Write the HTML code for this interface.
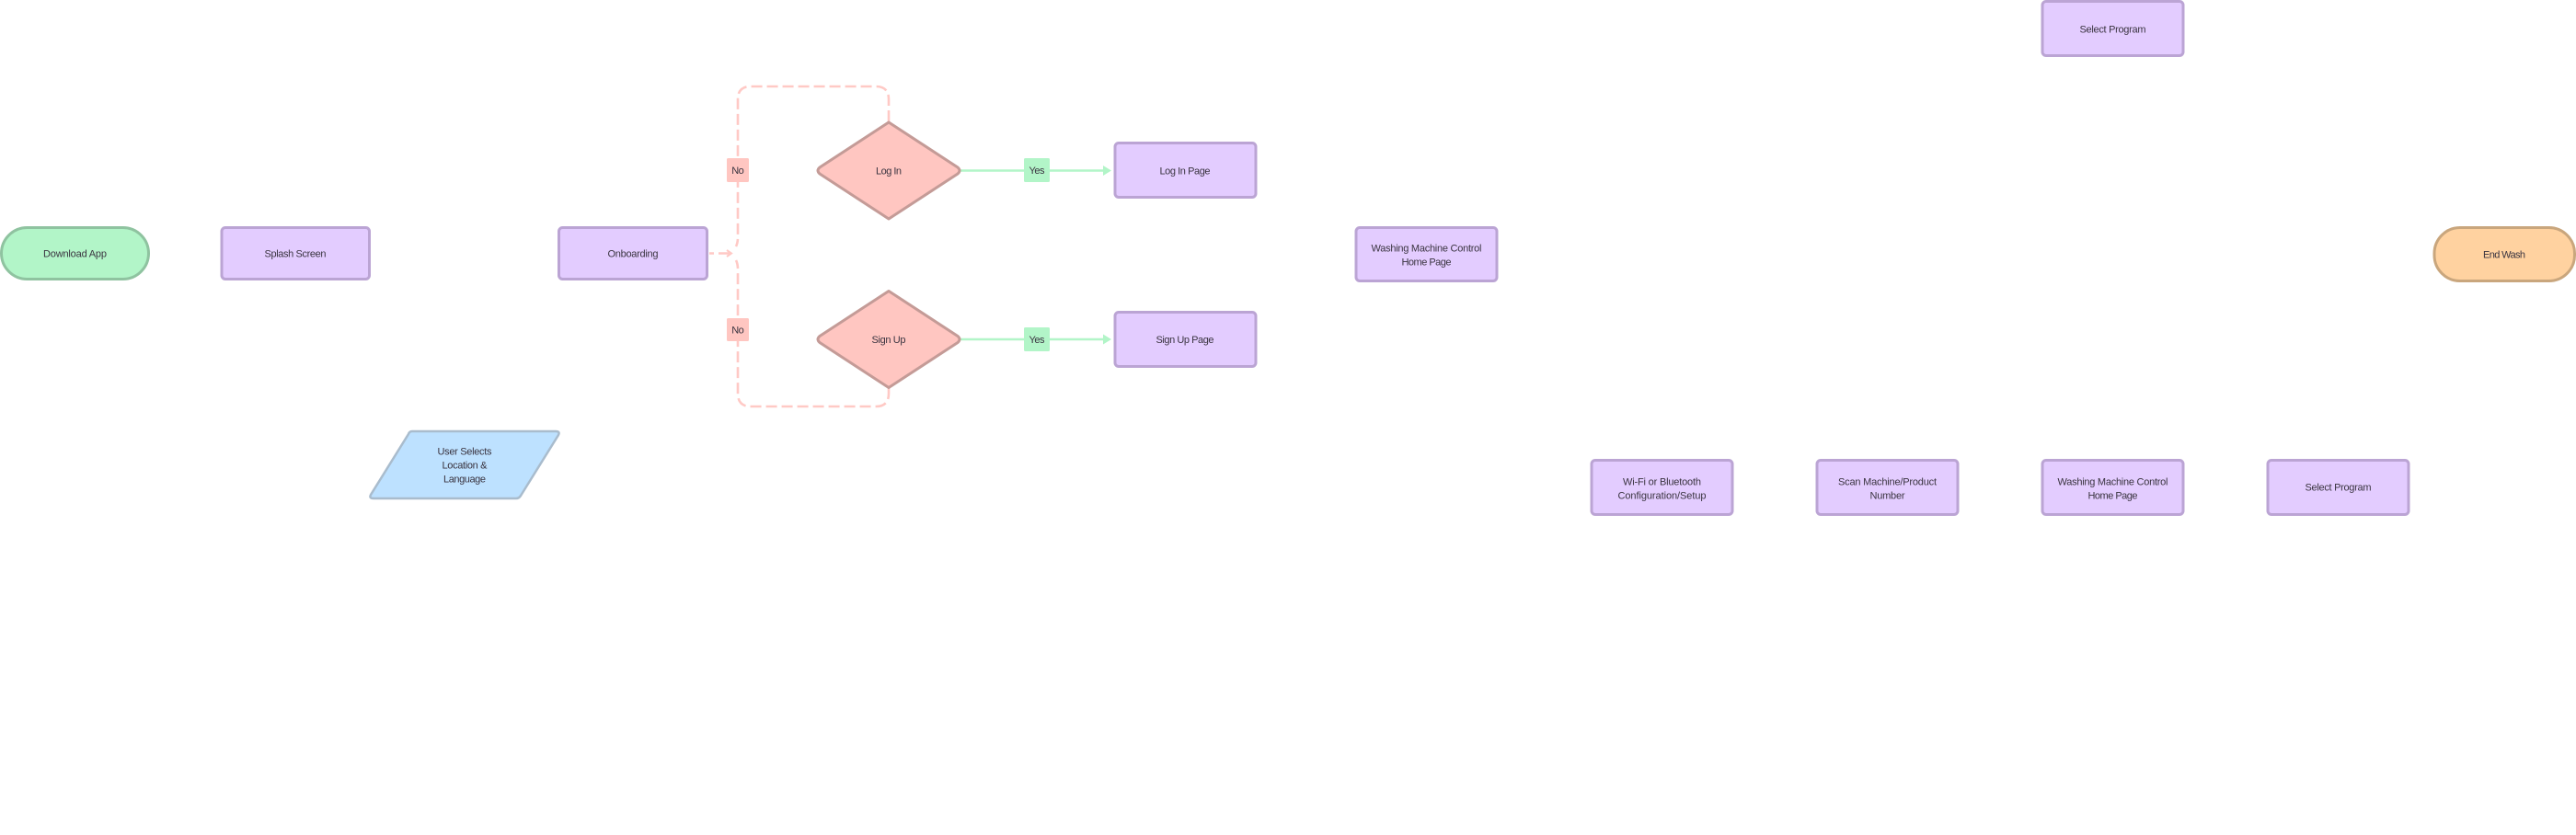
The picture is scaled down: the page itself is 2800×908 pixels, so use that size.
<!DOCTYPE html>
<html lang="en">
<head>
<meta charset="utf-8">
<title>App Flow Diagram</title>
<style>
html,body{margin:0;padding:0;background:#fff;width:2800px;height:908px;overflow:hidden}
svg{display:block}
text{font-family:"Liberation Sans",sans-serif;font-size:11px;fill:#3a3440;text-anchor:middle}
.p{fill:#e3ccff;stroke:#bba4d4;stroke-width:3}
.r{fill:#ffc6c1;stroke:#c49b97;stroke-width:3;stroke-linejoin:round}
.d{fill:none;stroke:#ffc9c5;stroke-width:2.6;stroke-dasharray:12 5}
.g{fill:none;stroke:#b2f5c8;stroke-width:2.5}
</style>
</head>
<body>
<svg width="2800" height="908" viewBox="0 0 2800 908" xmlns="http://www.w3.org/2000/svg">
<rect width="2800" height="908" fill="#fff"/>

<!-- dashed connectors -->
<path class="d" d="M966 132V108Q966 94 952 94H816Q802 94 802 108V258Q802 264 800 268"/>
<path class="d" d="M966 422V428Q966 442 952 442H816Q802 442 802 428V293Q802 287 800 283"/>
<path d="M771 275.500H776M781 275.500H793" fill="none" stroke="#ffc9c5" stroke-width="2.500"/>
<path d="M790 272L795 275.500L790 279" fill="none" stroke="#ffc9c5" stroke-width="2"/>

<!-- green connectors -->
<path class="g" d="M1044 185.500H1200"/>
<path class="g" d="M1044 369H1200"/>
<path d="M1199 180L1208 185.500L1199 191Z" fill="#b2f5c8"/>
<path d="M1199 363.500L1208 369L1199 374.500Z" fill="#b2f5c8"/>

<!-- terminators -->
<rect x="1.500" y="247.500" width="160" height="56" rx="28" fill="#b2f5c8" stroke="#8fc3a0" stroke-width="3"/>
<rect x="2646" y="247.500" width="152.500" height="58" rx="28" fill="#ffd2a0" stroke="#c9a67d" stroke-width="3"/>

<!-- process boxes -->
<rect class="p" x="241" y="247.500" width="160.500" height="56" rx="4"/>
<rect class="p" x="607.500" y="247.500" width="161" height="56" rx="4"/>
<rect class="p" x="1212" y="155.500" width="153" height="59" rx="4"/>
<rect class="p" x="1212" y="339.500" width="153" height="59" rx="4"/>
<rect class="p" x="1474" y="247.500" width="153" height="58" rx="4"/>
<rect class="p" x="2220" y="1.500" width="153" height="59" rx="4"/>
<rect class="p" x="1730" y="500.500" width="153" height="59" rx="4"/>
<rect class="p" x="1975" y="500.500" width="153" height="59" rx="4"/>
<rect class="p" x="2220" y="500.500" width="153" height="59" rx="4"/>
<rect class="p" x="2465" y="500.500" width="153" height="59" rx="4"/>

<!-- decisions -->
<path class="r" d="M966 133L1041 182Q1045 185.500 1041 189L966 238L891 189Q887 185.500 891 182Z"/>
<path class="r" d="M966 316.500L1041 365.500Q1045 369 1041 372.500L966 421.500L891 372.500Q887 369 891 365.500Z"/>

<!-- input parallelogram -->
<path d="M448 469H604Q609 469 607 473L566 539Q564 542 561 542H406Q401 542 403 538L444 472Q445 469 448 469Z" fill="#bde1ff" stroke="#a9bccd" stroke-width="2.500"/>

<!-- edge labels -->
<rect x="790" y="172" width="24" height="26" rx="1.500" fill="#ffc6c1"/>
<rect x="790" y="346" width="24" height="25" rx="1.500" fill="#ffc6c1"/>
<rect x="1113" y="172" width="28" height="26" rx="1.500" fill="#b2f5c8"/>
<rect x="1113" y="356" width="28" height="26" rx="1.500" fill="#b2f5c8"/>

<text x="81.500" y="279.500" textLength="69" lengthAdjust="spacing">Download App</text>
<text x="321" y="279.500" textLength="67" lengthAdjust="spacing">Splash Screen</text>
<text x="688" y="279.500" textLength="55" lengthAdjust="spacing">Onboarding</text>
<text x="966" y="189.500" textLength="28" lengthAdjust="spacing">Log In</text>
<text x="966" y="373" textLength="37" lengthAdjust="spacing">Sign Up</text>
<text x="802" y="189" textLength="13.500" lengthAdjust="spacing">No</text>
<text x="802" y="362.500" textLength="13.500" lengthAdjust="spacing">No</text>
<text x="1127" y="189" textLength="17" lengthAdjust="spacing">Yes</text>
<text x="1127" y="373" textLength="17" lengthAdjust="spacing">Yes</text>
<text x="1288" y="189.500" textLength="55" lengthAdjust="spacing">Log In Page</text>
<text x="1288" y="373" textLength="63" lengthAdjust="spacing">Sign Up Page</text>
<text x="505" y="494.500" textLength="59" lengthAdjust="spacing">User Selects</text>
<text x="505" y="509.500" textLength="49" lengthAdjust="spacing">Location &amp;</text>
<text x="505" y="524.500" textLength="46" lengthAdjust="spacing">Language</text>
<text x="1550.500" y="273.500" textLength="120" lengthAdjust="spacing">Washing Machine Control</text>
<text x="1550.500" y="288.500" textLength="54" lengthAdjust="spacing">Home Page</text>
<text x="2722" y="280.500" textLength="46" lengthAdjust="spacing">End Wash</text>
<text x="2296.500" y="35.500" textLength="72" lengthAdjust="spacing">Select Program</text>
<text x="1806.500" y="527.500" textLength="85" lengthAdjust="spacing">Wi-Fi or Bluetooth</text>
<text x="1806.500" y="542.500" textLength="96" lengthAdjust="spacing">Configuration/Setup</text>
<text x="2051.500" y="527.500" textLength="107" lengthAdjust="spacing">Scan Machine/Product</text>
<text x="2051.500" y="542.500" textLength="38" lengthAdjust="spacing">Number</text>
<text x="2296.500" y="527.500" textLength="120" lengthAdjust="spacing">Washing Machine Control</text>
<text x="2296.500" y="542.500" textLength="54" lengthAdjust="spacing">Home Page</text>
<text x="2541.500" y="533.500" textLength="72" lengthAdjust="spacing">Select Program</text>
</svg>
</body>
</html>
